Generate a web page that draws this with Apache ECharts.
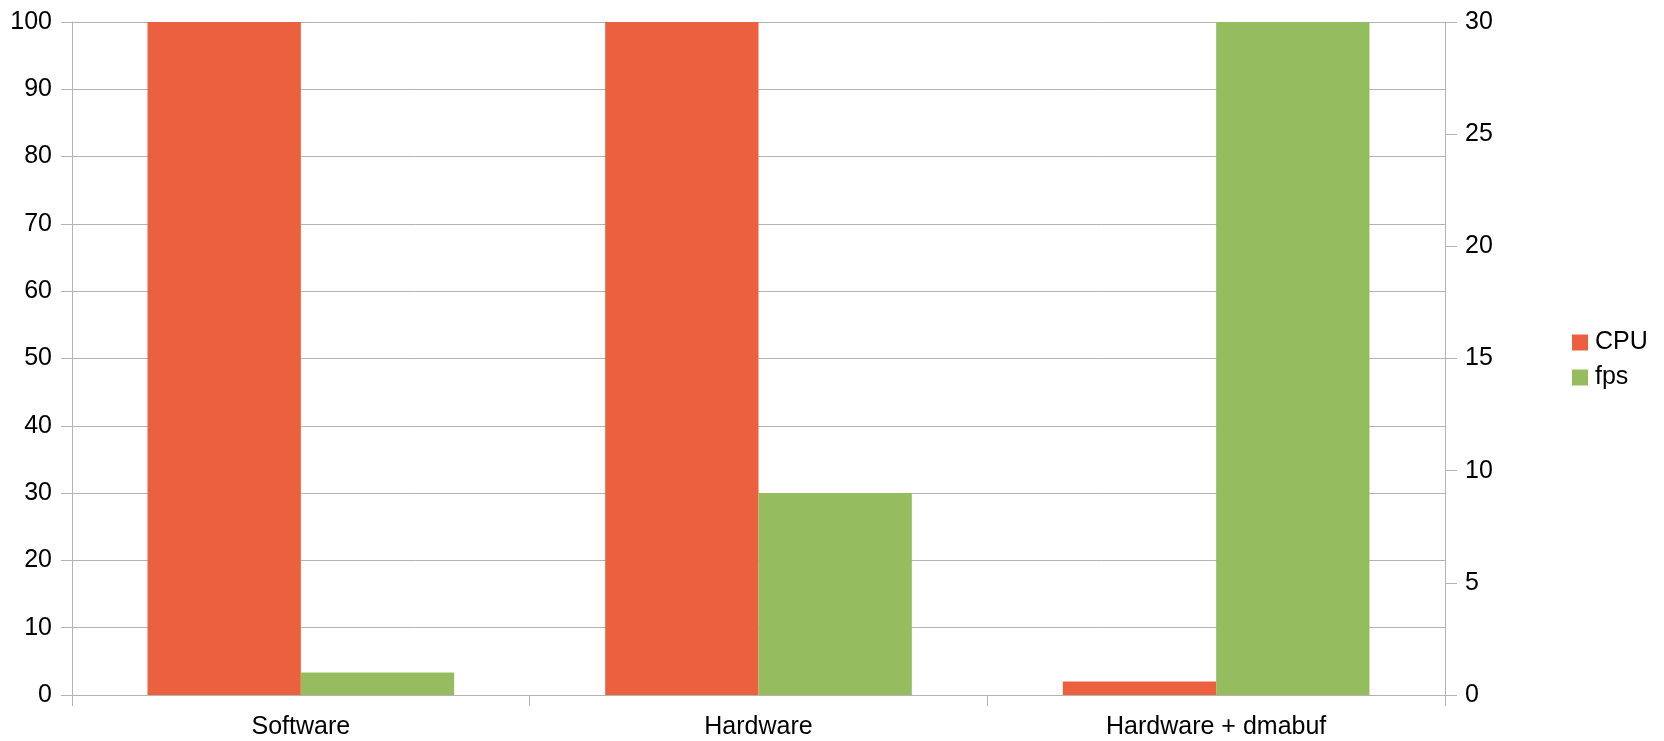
<!DOCTYPE html>
<html>
<head>
<meta charset="utf-8">
<script src="https://cdn.jsdelivr.net/npm/echarts@6/dist/echarts.min.js"></script>
<style>
  html, body { margin: 0; padding: 0; background: #fff; }
  #chart { width: 1664px; height: 741px; }
</style>
</head>
<body>
<div id="chart"></div>
<script>
const categories = ['Software', 'Hardware', 'Hardware + dmabuf'];
const cpuValues = [100, 100, 2];
const fpsValues = [1, 9, 30];

const FONT = '"Liberation Sans", Arial, sans-serif';
const GRID_COLOR = '#b3b3b3';
const LABEL_SIZE = 25;

const chart = echarts.init(document.getElementById('chart'), null, { renderer: 'canvas' });
chart.setOption({
  animation: false,
  backgroundColor: '#ffffff',
  textStyle: { fontFamily: FONT },
  grid: { left: 72, right: 219, top: 22, bottom: 46, containLabel: false },
  legend: {
    orient: 'vertical',
    left: 1572,
    top: 330,
    padding: 0,
    itemWidth: 16,
    itemHeight: 16,
    itemGap: 10,
    icon: 'rect',
    textStyle: { fontSize: LABEL_SIZE, color: '#000', fontFamily: FONT, padding: [0, 0, 0, 2] },
    data: ['CPU', 'fps']
  },
  xAxis: {
    type: 'category',
    data: categories,
    axisLine: { lineStyle: { color: GRID_COLOR, width: 1 } },
    axisTick: { show: true, length: 11, lineStyle: { color: GRID_COLOR } },
    axisLabel: { color: '#000', fontSize: LABEL_SIZE, fontFamily: FONT, margin: 20 }
  },
  yAxis: [
    {
      type: 'value',
      min: 0, max: 100, interval: 10,
      axisLine: { show: true, lineStyle: { color: GRID_COLOR } },
      axisTick: { show: true, length: 11, lineStyle: { color: GRID_COLOR } },
      axisLabel: { color: '#000', fontSize: LABEL_SIZE, fontFamily: FONT, margin: 20 },
      splitLine: { show: true, lineStyle: { color: GRID_COLOR, width: 1 } }
    },
    {
      type: 'value',
      position: 'right',
      min: 0, max: 30, interval: 5,
      axisLine: { show: true, lineStyle: { color: GRID_COLOR } },
      axisTick: { show: true, length: 12, lineStyle: { color: GRID_COLOR } },
      axisLabel: { color: '#000', fontSize: LABEL_SIZE, fontFamily: FONT, margin: 20 },
      splitLine: { show: false }
    }
  ],
  series: [
    {
      name: 'CPU',
      type: 'bar',
      yAxisIndex: 0,
      data: cpuValues,
      barGap: '0%',
      barCategoryGap: '33%',
      itemStyle: { color: '#eb613f' }
    },
    {
      name: 'fps',
      type: 'bar',
      yAxisIndex: 1,
      data: fpsValues,
      barGap: '0%',
      barCategoryGap: '33%',
      itemStyle: { color: '#95bd5f' }
    }
  ]
});
</script>
</body>
</html>
